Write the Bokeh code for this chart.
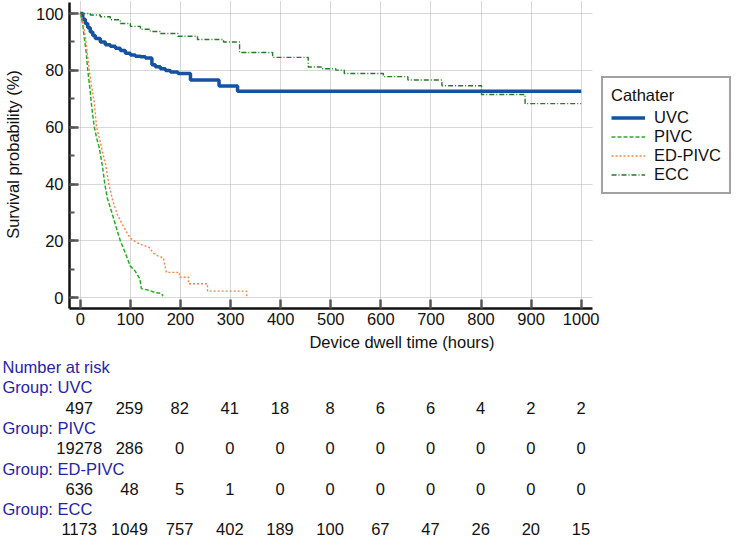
from bokeh.plotting import figure
from bokeh.models import (Range1d, SingleIntervalTicker, Legend, LegendItem,
                          ColumnDataSource, BoxAnnotation)
from bokeh.core.properties import value
from bokeh.embed import file_html
from bokeh.resources import INLINE

FONT = "Liberation Sans"
FS = "16.5px"

# ---------------- data ----------------
uvc_t = [0, 5, 10, 15, 20, 25, 30, 40, 50, 60, 70, 80, 90, 100, 110, 120, 130, 143, 150, 160, 170, 180, 195, 220, 277, 314, 1000]
uvc_s = [100, 98, 96.5, 95, 93.5, 92.3, 91.2, 90, 89, 88.5, 87.8, 87, 86, 85.4, 85, 84.8, 84.4, 82, 81.3, 80.6, 80, 79.4, 78.9, 76.6, 74.5, 72.7, 72.7]

pivc_t = [0, 3, 5, 8, 12, 15, 19.5, 22, 25, 28, 33, 38, 44, 49, 54, 64, 73.5, 80, 90, 99.5, 109, 119, 122, 137, 150, 162.5, 165]
pivc_s = [100, 98, 96, 91.5, 86, 80, 73.2, 68.7, 64, 60, 56, 52.7, 46.5, 40, 35, 29.4, 23.7, 20, 15.7, 11.2, 9.5, 6.6, 3.2, 2.6, 1.8, 1.5, 0.5]

edpivc_t = [0, 3, 6, 10, 14, 18, 23, 28, 32.5, 37, 41, 46, 51, 57, 65, 75, 85, 96, 104, 120, 137, 146, 156, 166, 169, 172, 198, 198, 216, 216, 254, 254, 332, 332]
edpivc_s = [100, 98.5, 96, 92, 86, 80, 74, 68.7, 60, 57, 54, 50, 46.5, 40, 34, 28.8, 25.5, 22, 20.3, 18.8, 17.8, 15.7, 14.6, 14, 11.2, 8.9, 8.9, 7.2, 7.2, 4.9, 4.9, 2.3, 2.3, 0]

ecc_t = [0, 20, 40, 60, 80, 100, 120, 140, 160, 195, 234, 286, 318, 384, 455, 481, 510, 527, 605, 654, 722, 801, 888, 1000]
ecc_s = [100, 99.5, 98.9, 97.8, 96.5, 95.5, 94.5, 93.7, 93, 92, 90.9, 90, 86.3, 84.6, 81.2, 80.6, 80.1, 78.9, 77.8, 76.6, 74.6, 71.5, 68.3, 68.3]

risk_times = [0, 100, 200, 300, 400, 500, 600, 700, 800, 900, 1000]
risk_groups = ["UVC", "PIVC", "ED-PIVC", "ECC"]
uvc_risk = [497, 259, 82, 41, 18, 8, 6, 6, 4, 2, 2]
pivc_risk = [19278, 286, 0, 0, 0, 0, 0, 0, 0, 0, 0]
edpivc_risk = [636, 48, 5, 1, 0, 0, 0, 0, 0, 0, 0]
ecc_risk = [1173, 1049, 757, 402, 189, 100, 67, 47, 26, 20, 15]

# ---------------- main plot ----------------
W = 734
LEFT, BOTTOM = 68, 48
H1 = 356
x0, x1 = -21.5, 1306.0       # frame spans to the right edge (legend area)
x_axis_end = 1022.5          # visible end of the x axis
y0, y1 = -3.8, 104.6

p = figure(width=W, height=H1, output_backend="svg", toolbar_location=None,
           x_range=Range1d(x0, x1), y_range=Range1d(y0, y1),
           min_border_left=LEFT, min_border_right=0,
           min_border_top=0, min_border_bottom=BOTTOM)
p.outline_line_color = None
p.background_fill_color = "white"

p.xaxis.ticker = SingleIntervalTicker(interval=100, num_minor_ticks=0)
p.yaxis.ticker = SingleIntervalTicker(interval=20, num_minor_ticks=2)
p.xaxis.bounds = (x0, x_axis_end)
p.yaxis.bounds = (y0, 103.9)
p.xaxis.axis_label = "Device dwell time (hours)"
p.yaxis.axis_label = "Survival probability (%)"
for ax in (p.xaxis, p.yaxis):
    ax.axis_label_text_font = FONT
    ax.axis_label_text_font_size = FS
    ax.axis_label_text_font_style = "normal"
    ax.axis_label_text_color = "#111111"
    ax.major_label_text_font = FONT
    ax.major_label_text_font_size = FS
    ax.major_label_text_color = "#111111"
    ax.axis_line_width = 2.5
    ax.axis_line_color = "#111111"
    ax.major_tick_in = 9
    ax.major_tick_out = 0
    ax.major_tick_line_width = 2.5
    ax.major_tick_line_color = "#555555"
    ax.minor_tick_in = 5
    ax.minor_tick_out = 0
    ax.minor_tick_line_width = 2
    ax.minor_tick_line_color = "#555555"
p.xaxis.major_label_standoff = 4
p.xaxis.axis_label_standoff = 5
p.yaxis.major_label_standoff = 6
p.yaxis.axis_label_standoff = 11

p.grid.grid_line_color = "#b0b0b0"
p.grid.grid_line_dash = "1 1"
p.grid.grid_line_width = 1

# blank out the grid beyond the end of the x axis (legend area)
p.add_layout(BoxAnnotation(left=x_axis_end, fill_color="white", fill_alpha=1.0,
                           line_color=None, level="underlay"))

r_uvc = p.step(uvc_t, uvc_s, mode="after", line_color="#1552a2", line_width=3.5)
r_pivc = p.line(pivc_t, pivc_s, line_color="#22b022", line_width=1.5, line_dash="4 2")
r_ed = p.line(edpivc_t, edpivc_s, line_color="#ff8040", line_width=1.4, line_dash="2 2")
r_ecc = p.step(ecc_t, ecc_s, mode="after", line_color="#267a26", line_width=1.4, line_dash="5 2 1 2")

legend = Legend(items=[LegendItem(label=g, renderers=[r]) for g, r in
                       zip(risk_groups, [r_uvc, r_pivc, r_ed, r_ecc])],
                location=(532, 114), title="Cathater",
                title_text_font=FONT, title_text_font_size=FS, title_text_font_style="normal",
                title_text_color="#111111", title_standoff=3,
                label_text_font=FONT, label_text_font_size=FS, label_text_color="#111111",
                label_standoff=9, glyph_width=34, glyph_height=19, label_height=19,
                spacing=0, padding=8, margin=0,
                border_line_color="#444444", border_line_width=2.5,
                background_fill_color="white", background_fill_alpha=1.0)
p.add_layout(legend)

# ---------------- number at risk table ----------------
H2 = 538 - H1
ppu = (W - LEFT) / (x1 - x0)
tx0 = x0 - LEFT / ppu
tx1 = tx0 + W / ppu
row0, row_step = 10.5, 20.3
q = figure(width=W, height=H2, output_backend="svg", toolbar_location=None,
           x_range=Range1d(tx0, tx1),
           y_range=Range1d((H2 - row0) / row_step, -row0 / row_step),
           min_border=0)
q.axis.visible = False
q.grid.visible = False
q.outline_line_color = None

label_rows = [0] + [1 + 2 * i for i in range(len(risk_groups))]
label_texts = ["Number at risk"] + ["Group: " + g for g in risk_groups]
lab = ColumnDataSource(dict(x=[tx0 + 2 / ppu] * len(label_rows), y=label_rows, t=label_texts))
q.text(x="x", y="y", text="t", source=lab, text_font=value(FONT), text_font_size=FS,
       text_color="#2424a8", text_align="left", text_baseline="middle")

nx, ny, nt = [], [], []
for i, vals in enumerate([uvc_risk, pivc_risk, edpivc_risk, ecc_risk]):
    for t, v in zip(risk_times, vals):
        nx.append(t)
        ny.append(2 + 2 * i)
        nt.append(str(v))
num = ColumnDataSource(dict(x=nx, y=ny, t=nt))
q.text(x="x", y="y", text="t", source=num, text_font=value(FONT), text_font_size=FS,
       text_color="#111111", text_align="center", text_baseline="middle")

open("out.html", "w").write(file_html([p, q], INLINE))
